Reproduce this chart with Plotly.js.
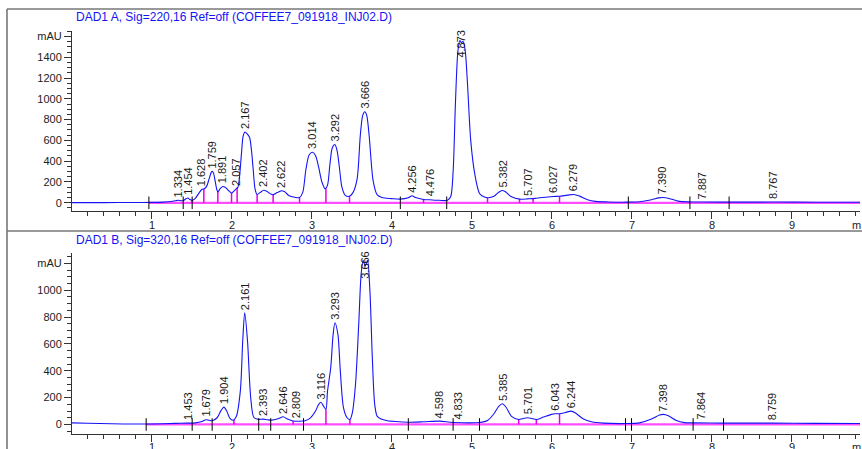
<!DOCTYPE html>
<html>
<head>
<meta charset="utf-8">
<script src="https://cdn.plot.ly/plotly-3.0.1.min.js"></script>
<style>html,body{margin:0;padding:0;background:#fff;}#chart{width:862px;height:449px;}</style>
</head>
<body>
<div id="chart"></div>
<script>
// ---------- DATA ----------
// Signal A (220 nm): time (min) and absorbance (mAU)
const timeA = [0.006,0.40,0.80,1.00,1.15,1.25,1.30,1.334,1.37,1.40,1.43,1.454,1.48,1.51,1.55,1.59,1.628,1.66,1.69,1.72,1.745,1.759,1.775,1.795,1.815,1.83,1.86,1.891,1.92,1.96,2.00,2.03,2.057,2.08,2.10,2.125,2.145,2.167,2.19,2.225,2.25,2.27,2.295,2.32,2.36,2.402,2.44,2.49,2.52,2.57,2.622,2.66,2.72,2.79,2.85,2.89,2.93,2.97,3.014,3.05,3.09,3.13,3.17,3.20,3.23,3.26,3.292,3.32,3.35,3.38,3.42,3.47,3.52,3.57,3.61,3.64,3.666,3.69,3.72,3.77,3.82,3.88,4.00,4.11,4.21,4.256,4.30,4.40,4.476,4.60,4.70,4.74,4.77,4.80,4.83,4.855,4.873,4.895,4.92,4.95,4.99,5.04,5.10,5.16,5.21,5.28,5.34,5.382,5.42,5.50,5.60,5.707,5.80,5.95,6.027,6.10,6.20,6.279,6.35,6.45,6.55,6.70,6.95,7.10,7.25,7.34,7.39,7.47,7.58,7.73,7.887,8.22,8.767,9.30,9.856];
const mauA  = [2,2,3,4,6,12,20,24,20,22,38,46,32,24,45,90,128,135,160,230,290,302,285,210,130,104,138,157,150,120,93,112,134,150,250,480,640,680,668,630,500,330,130,80,100,120,110,84,78,98,115,108,68,53,50,100,320,460,486,455,340,200,135,170,370,530,560,500,330,150,74,62,100,230,650,840,876,840,650,214,78,50,40,35,48,67,50,32,29,24,24,60,300,980,1460,1560,1540,1552,1470,1140,600,280,90,55,48,62,102,118,108,58,35,38,42,56,61,63,74,80,64,30,14,8,6,10,30,47,51,42,16,8,7,6,7,5,5];

// Signal B (320 nm)
const timeB = [0.006,0.20,0.50,0.80,1.00,1.30,1.453,1.55,1.63,1.679,1.72,1.76,1.82,1.87,1.904,1.94,1.98,2.02,2.06,2.11,2.14,2.165,2.20,2.24,2.28,2.34,2.393,2.45,2.50,2.58,2.646,2.70,2.77,2.85,2.92,2.98,3.05,3.085,3.116,3.15,3.18,3.20,3.24,3.27,3.293,3.33,3.36,3.40,3.445,3.48,3.51,3.55,3.59,3.62,3.645,3.672,3.70,3.73,3.76,3.79,3.82,3.87,3.95,4.05,4.21,4.40,4.598,4.77,5.10,5.20,5.28,5.34,5.385,5.43,5.50,5.59,5.65,5.701,5.75,5.81,5.90,6.00,6.043,6.10,6.18,6.244,6.30,6.40,6.50,6.65,6.925,7.10,7.25,7.35,7.398,7.46,7.56,7.66,7.77,8.15,8.759,9.30,9.856];
const mauB  = [12,9,5,3,4,8,10,12,22,35,31,28,50,105,129,100,45,32,60,248,621,832,621,199,52,38,40,35,32,42,57,40,26,24,28,45,100,145,166,137,112,248,422,670,758,670,397,124,50,37,87,300,745,1118,1222,1180,1222,994,497,150,62,40,28,22,17,20,25,15,15,30,80,135,154,130,60,37,45,50,45,37,55,75,80,80,90,99,85,40,20,10,7,12,40,70,75,65,30,14,12,10,10,8,7];

// Peak tables (retention time, height at apex)
const peakRtA = [1.334,1.454,1.628,1.759,1.891,2.057,2.167,2.402,2.622,3.014,3.292,3.666,4.256,4.476,4.873,5.382,5.707,6.027,6.279,7.390,7.887,8.767];
const peakHA  = [24,46,128,302,157,134,680,120,115,486,560,876,67,29,1555,118,38,61,80,51,7,7];
const peakRtB = [1.453,1.679,1.904,2.161,2.393,2.646,2.809,3.116,3.293,3.666,4.598,4.833,5.385,5.701,6.043,6.244,7.398,7.864,8.759];
const peakHB  = [10,35,129,832,40,57,25,166,758,1222,25,15,154,50,80,99,75,12,10];

// Integration events: drop lines (time, height) and baseline tick marks (time)
const dropTA = [1.508,1.654,1.829,2.000,2.070,2.320,2.520,2.850,3.180,3.475,4.400,5.200,5.600,5.770,6.100];
const dropHA = [24,132,104,93,148,80,78,50,135,62,32,48,35,40,63];
const tickTA = [0.967,1.396,1.508,4.110,4.690,6.960,7.730,8.220];
const dropTB = [2.030,2.770,3.180,3.480,5.590,5.810,6.100];
const dropHB = [33,26,112,37,40,37,80];
const tickTB = [0.933,1.508,1.758,2.340,2.490,2.900,4.210,4.770,5.100,6.925,7.000,7.770,8.150];

// Axis tick labels
const xTickVals  = [1,2,3,4,5,6,7,8,9];
const yTickValsA = [0,200,400,600,800,1000,1200,1400,1600];
const yTickTextA = ['0','200','400','600','800','1000','1200','1400','mAU'];
const yTickValsB = [0,200,400,600,800,1000,1200];
const yTickTextB = ['0','200','400','600','800','1000','mAU'];

const titleA = 'DAD1 A, Sig=220,16 Ref=off (COFFEE7_091918_INJ02.D)';
const titleB = 'DAD1 B, Sig=320,16 Ref=off (COFFEE7_091918_INJ02.D)';
const unitX = 'm';

// ---------- STYLE ----------
const FONT = 'Arial, "Liberation Sans", sans-serif';
const BLUE = 'rgb(20,20,245)';
const MAG_BASE = '#ff4dff';
const MAG_DROP = '#e600e6';
const AX = '#333333';
const W = 862, H = 449;
const X_END = 9.856;

function dropXY(ts, hs) {
  const x = [], y = [];
  ts.forEach((t, i) => { x.push(t, t, null); y.push(0, hs[i], null); });
  return {x, y};
}

function panelTraces(tt, vv, dT, dH, tT, xa, ya) {
  const d = dropXY(dT, dH);
  return [
    {x: [tT[0], X_END], y: [0, 0], xaxis: xa, yaxis: ya, mode: 'lines',
     line: {color: MAG_BASE, width: 2.2}, hoverinfo: 'skip'},
    {x: d.x, y: d.y, xaxis: xa, yaxis: ya, mode: 'lines',
     line: {color: MAG_DROP, width: 1.5}, hoverinfo: 'skip'},
    {x: tt, y: vv, xaxis: xa, yaxis: ya, mode: 'lines',
     line: {color: BLUE, width: 1.1, shape: 'spline', smoothing: 0.8}},
    {x: tT, y: tT.map(() => 0), xaxis: xa, yaxis: ya, mode: 'markers',
     marker: {symbol: 'line-ns-open', size: 9, color: '#000', line: {width: 1, color: '#000'}}}
  ];
}

const data = [
  ...panelTraces(timeA, mauA, dropTA, dropHA, tickTA, 'x', 'y'),
  ...panelTraces(timeB, mauB, dropTB, dropHB, tickTB, 'x2', 'y2')
];

function xAxis(anchor) {
  return {
    domain: [72 / W, 860 / W], range: [0.006, X_END], anchor: anchor,
    tickmode: 'array', tickvals: xTickVals, showticklabels: false,
    ticks: 'outside', ticklen: 7, tickwidth: 1, tickcolor: AX,
    showline: true, linecolor: AX, linewidth: 1, showgrid: false, zeroline: false,
    minor: {tickmode: 'linear', tick0: 0, dtick: 0.2, ticks: 'outside', ticklen: 4, tickcolor: AX, tickwidth: 1, showgrid: false},
    fixedrange: true
  };
}
function yAxis(anchor, dom, rng, tv, tx) {
  return {
    domain: dom, range: rng, anchor: anchor,
    tickmode: 'array', tickvals: tv, ticktext: tx,
    ticks: 'outside', ticklen: 7, tickwidth: 1, tickcolor: AX,
    showline: true, linecolor: AX, linewidth: 1, showgrid: false, zeroline: false,
    minor: {tickmode: 'linear', tick0: 0, dtick: 50, ticks: 'outside', ticklen: 4, tickcolor: AX, tickwidth: 1, showgrid: false},
    tickfont: {family: FONT, size: 11, color: '#222'}, fixedrange: true
  };
}

const annotations = [];
function peakLabels(rts, hs, xr, yr, cap) {
  rts.forEach((rt, i) => {
    const capped = hs[i] > cap;
    annotations.push({
      x: rt, y: capped ? cap : hs[i], xref: xr, yref: yr,
      text: rt.toFixed(3), textangle: -90, showarrow: false,
      xanchor: 'center', yanchor: 'bottom', yshift: capped ? 0 : 2,
      borderpad: 0, font: {family: FONT, size: 11, color: '#1a1a1a'}
    });
  });
}
peakLabels(peakRtA, peakHA, 'x', 'y', 1390);
peakLabels(peakRtB, peakHB, 'x2', 'y2', 1076);

// x tick labels (drawn as text at the axes' tick values)
[['x', 225], ['x2', 447]].forEach(([xr, py]) => {
  xTickVals.forEach(v => annotations.push({
    text: String(v), xref: xr, yref: 'paper', x: v, y: 1 - py / H,
    xanchor: 'center', yanchor: 'middle', showarrow: false, borderpad: 0,
    font: {family: FONT, size: 11, color: '#222'}
  }));
  annotations.push({
    text: unitX, xref: 'paper', yref: 'paper', x: 856 / W, y: 1 - py / H,
    xanchor: 'center', yanchor: 'middle', showarrow: false, borderpad: 0,
    font: {family: FONT, size: 11, color: '#222'}
  });
});

[[titleA, 17], [titleB, 240]].forEach(([t, py]) => annotations.push({
  text: t, xref: 'paper', yref: 'paper', x: 75 / W, y: 1 - py / H,
  xanchor: 'left', yanchor: 'middle', showarrow: false, borderpad: 0,
  font: {family: FONT, size: 12, color: BLUE}
}));

const FR = '#777777';
const shapes = [
  {type: 'line', xref: 'paper', yref: 'paper', x0: 7 / W, x1: 1, y0: 1 - 9 / H, y1: 1 - 9 / H, line: {color: FR, width: 1.6}},
  {type: 'line', xref: 'paper', yref: 'paper', x0: 7 / W, x1: 7 / W, y0: 1 - 9 / H, y1: 0, line: {color: FR, width: 1.6}},
  {type: 'line', xref: 'paper', yref: 'paper', x0: 7 / W, x1: 1, y0: 1 - 231 / H, y1: 1 - 231 / H, line: {color: FR, width: 1.6}}
];

const layout = {
  width: W, height: H, margin: {l: 0, r: 0, t: 0, b: 0, pad: 0},
  paper_bgcolor: '#fff', plot_bgcolor: '#fff', showlegend: false,
  xaxis: xAxis('y'),
  yaxis: yAxis('x', [1 - 211 / H, 1 - 31 / H], [-79, 1652], yTickValsA, yTickTextA),
  xaxis2: xAxis('y2'),
  yaxis2: yAxis('x2', [1 - 434 / H, 1 - 253 / H], [-71, 1277], yTickValsB, yTickTextB),
  annotations: annotations, shapes: shapes,
  font: {family: FONT}
};

Plotly.newPlot('chart', data, layout, {displayModeBar: false, staticPlot: true});
</script>
</body>
</html>
